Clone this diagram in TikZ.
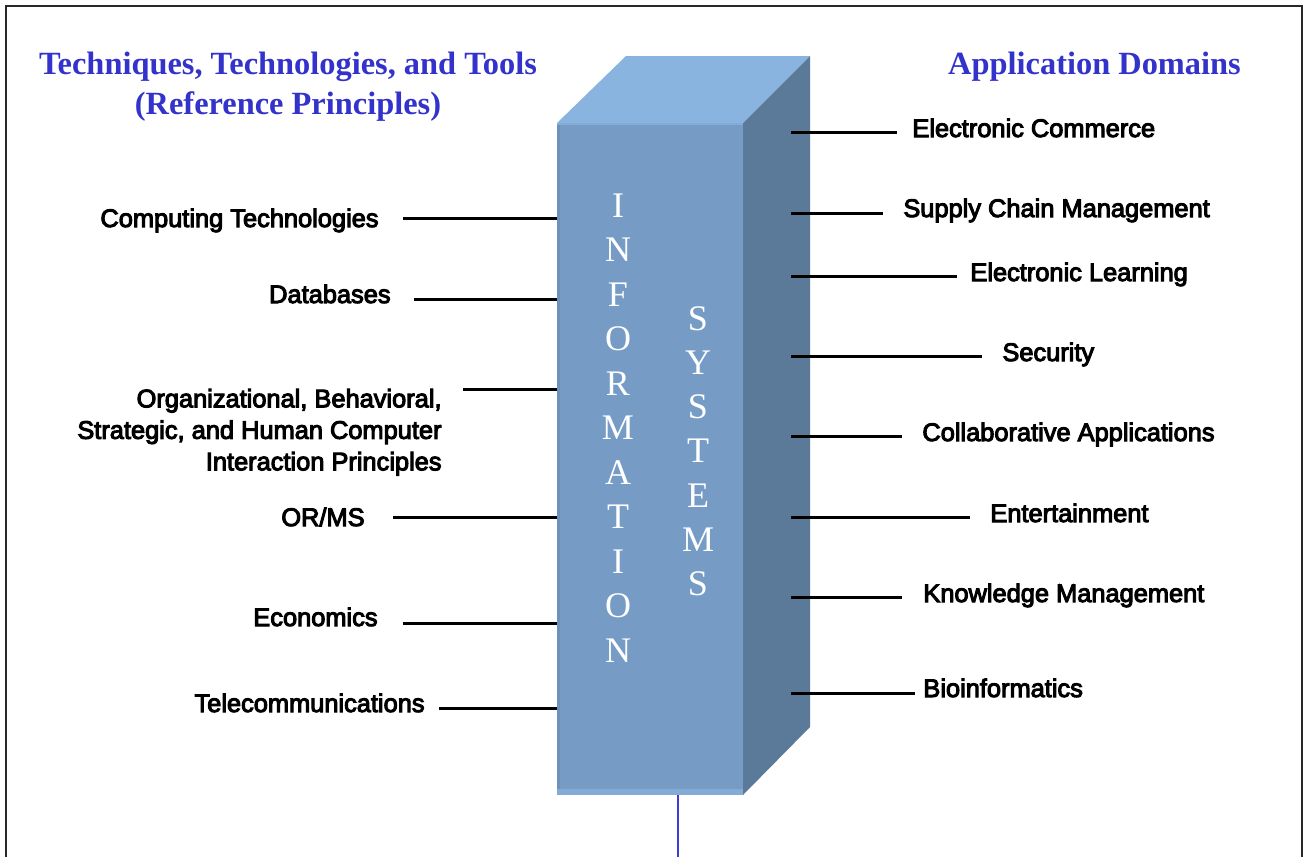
\documentclass[tikz,border=0pt]{standalone}
\usepackage{fontspec}
\newfontfamily\labfont{Liberation Sans}[FakeBold=4]
\newfontfamily\titfont{Liberation Serif}
\definecolor{titblue}{RGB}{51,51,204}
\definecolor{frontc}{RGB}{118,156,198}
\definecolor{topc}{RGB}{138,180,224}
\definecolor{sidec}{RGB}{91,122,153}
\definecolor{frontlite}{RGB}{132,170,214}
\definecolor{frontdark}{RGB}{108,145,187}
\definecolor{lineblue}{RGB}{60,60,220}
\definecolor{framec}{RGB}{40,40,40}
\begin{document}
\begin{tikzpicture}[x=0.5pt,y=-0.5pt,
  lab/.style={font={\labfont\fontsize{12.7}{15.75}\selectfont}, inner sep=0pt, text=black},
  titl/.style={font={\titfont\bfseries\fontsize{16.2}{20}\selectfont}, text=titblue, inner sep=0pt},
  colletter/.style={font={\titfont\fontsize{18}{22}\selectfont}, text=white, inner sep=0pt},
  conn/.style={line width=1.5pt, black},
  stem/.style={line width=0.8pt, lineblue}]
\useasboundingbox (0,0) rectangle (1308,857);
% frame
\draw[framec, line width=1pt] (6,857) -- (6,6) -- (1302,6) -- (1302,857);
% box
\fill[frontc] (557,123) rectangle (743,795);
\fill[frontdark] (557,123) rectangle (560,795);
\fill[frontlite] (557,789) rectangle (743,795);
\fill[frontlite] (557,123) rectangle (743,125);
\fill[topc] (557,123) -- (626,56) -- (810,56) -- (743,123) -- cycle;
\fill[sidec] (743,123) -- (810,56) -- (810,727) -- (743,795) -- cycle;
% column letters
\foreach \l [count=\i] in {I,N,F,O,R,M,A,T,I,O,N}
  \node[colletter, anchor=base] (inf\i) at (618,{217+(\i-1)*44.5}) {\l};
\foreach \l [count=\i] in {S,Y,S,T,E,M,S}
  \node[colletter, anchor=base] (sys\i) at (698,{330+(\i-1)*44.3}) {\l};
% stem
\coordinate (stemtop) at (678,795);
\coordinate (stembot) at (678,857);
\draw[stem] (stemtop) -- (stembot);
% titles
\node[titl, align=center, anchor=north] (tleft) at (288,51.5) {Techniques, Technologies, and Tools\\(Reference Principles)};
\node[titl, anchor=base] (tright) at (1094.5,74) {Application Domains};
% left labels
\node[lab, anchor=base east] (l1) at (379,227) {Computing Technologies};
\node[lab, anchor=base east] (l2) at (391,303) {Databases};
\node[lab, anchor=north east, align=right] (l3) at (442,388.5) {Organizational, Behavioral,\\Strategic, and Human Computer\\Interaction Principles};
\node[lab, anchor=base east] (l4) at (365,526) {OR/MS};
\node[lab, anchor=base east] (l5) at (378,626) {Economics};
\node[lab, anchor=base east] (l6) at (425,712) {Telecommunications};
\coordinate (cl1) at (557,218); \coordinate (el1) at (403,218);
\coordinate (cl2) at (557,299); \coordinate (el2) at (414,299);
\coordinate (cl3) at (557,389); \coordinate (el3) at (463,389);
\coordinate (cl4) at (557,517); \coordinate (el4) at (393,517);
\coordinate (cl5) at (557,623); \coordinate (el5) at (403,623);
\coordinate (cl6) at (557,708); \coordinate (el6) at (439,708);
\foreach \i in {1,...,6} \draw[conn] (cl\i) -- (el\i);
% right labels
\node[lab, anchor=base west] (r1) at (912,137) {Electronic Commerce};
\node[lab, anchor=base west] (r2) at (903,217) {Supply Chain Management};
\node[lab, anchor=base west] (r3) at (970,281) {Electronic Learning};
\node[lab, anchor=base west] (r4) at (1002,361) {Security};
\node[lab, anchor=base west] (r5) at (922,441) {Collaborative Applications};
\node[lab, anchor=base west] (r6) at (990,522) {Entertainment};
\node[lab, anchor=base west] (r7) at (923,602) {Knowledge Management};
\node[lab, anchor=base west] (r8) at (923,697) {Bioinformatics};
\coordinate (cr1) at (791,132); \coordinate (er1) at (897,132);
\coordinate (cr2) at (791,213); \coordinate (er2) at (883,213);
\coordinate (cr3) at (791,276); \coordinate (er3) at (957,276);
\coordinate (cr4) at (791,356); \coordinate (er4) at (982,356);
\coordinate (cr5) at (791,436); \coordinate (er5) at (902,436);
\coordinate (cr6) at (791,517); \coordinate (er6) at (970,517);
\coordinate (cr7) at (791,597); \coordinate (er7) at (902,597);
\coordinate (cr8) at (791,693); \coordinate (er8) at (915,693);
\foreach \i in {1,...,8} \draw[conn] (cr\i) -- (er\i);
\end{tikzpicture}
\end{document}
